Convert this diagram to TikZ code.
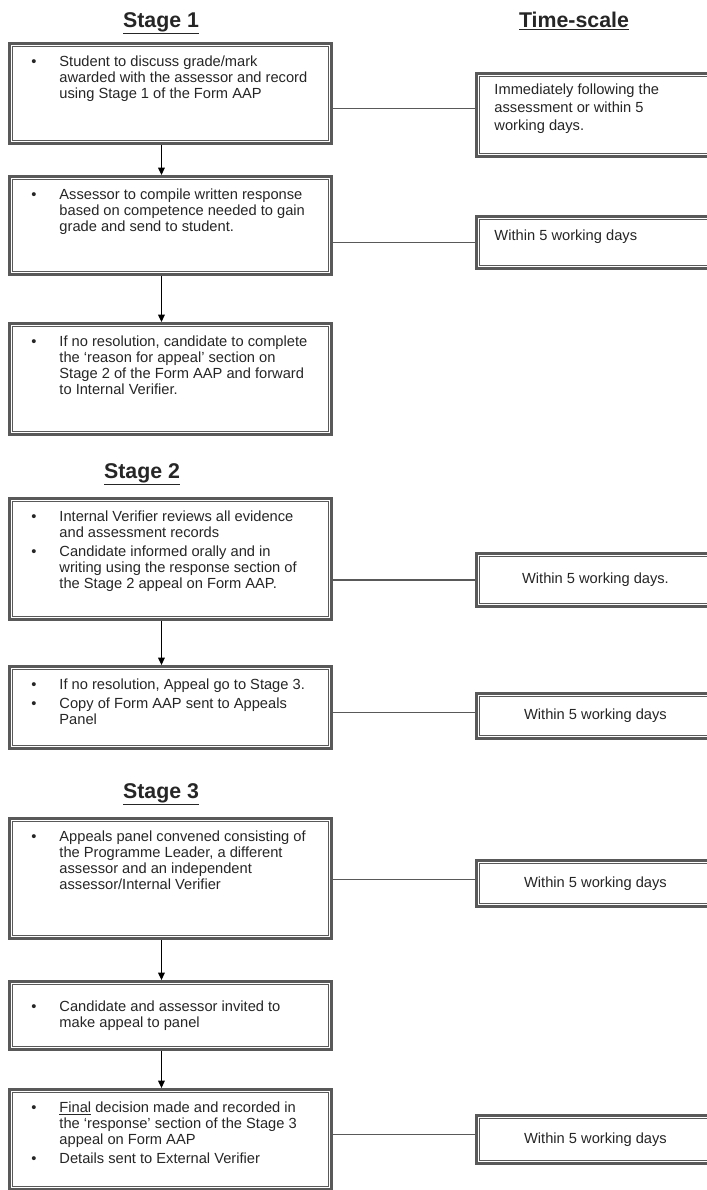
\documentclass[tikz,border=0pt]{standalone}
\usepackage{fontspec}
\setmainfont{Liberation Sans}
\usetikzlibrary{arrows.meta}

\newcommand{\bul}[1]{\par\noindent\hangindent=29.5pt\hangafter=1\makebox[29.5pt][l]{\hspace{8.5pt}\textbullet}\strut#1\par}
\newcommand{\boxbody}[3]{\begin{minipage}[t][#2][t]{#1}\raggedright\setlength{\parskip}{2pt}#3\end{minipage}}

\begin{document}
\begin{tikzpicture}[x=0.75pt, y=-0.75pt,
        stagebox/.style={draw=black!65, line width=2.2pt, fill=white, anchor=north west,
            inner xsep=8pt, inner ysep=8.8pt, text=black!85,
            font=\fontsize{11pt}{12pt}\selectfont,
            path picture={\draw[black!65, line width=0.6pt]
                ([shift={(2pt,-2pt)}]path picture bounding box.north west) rectangle
                ([shift={(-2pt,2pt)}]path picture bounding box.south east);}},
        timebox/.style={stagebox, inner xsep=13.5pt, inner ysep=6.3pt,
            font=\fontsize{11pt}{13.5pt}\selectfont},
        daybox/.style={stagebox, inner sep=3pt, minimum width=178.5pt, align=center},
        heading/.style={anchor=base, text=black!85, font=\fontsize{16pt}{19pt}\selectfont\bfseries},
        link/.style={draw=black!65, line width=1.1pt},
        flow/.style={-{Triangle[length=5.5pt, width=5pt]}, line width=0.8pt}]

        \path[fill=white, use as bounding box] (0, 0) rectangle (707, 1190);

        % headings
        \node[heading] (st1) at (161, 27) {\underline{Stage 1}};
        \node[heading] (ts) at (574, 27) {\underline{Time-scale}};
        \node[heading] (st2) at (142, 478) {\underline{Stage 2}};
        \node[heading] (st3) at (161, 798) {\underline{Stage 3}};

        % stage 1
        \node[stagebox] (b1) at (8, 42) {\boxbody{225.5pt}{57.4pt}{%
            \bul{Student to discuss grade/mark\newline awarded with the assessor and record\newline using Stage 1 of the Form AAP}}};
        \node[stagebox] (b2) at (8, 175) {\boxbody{225.5pt}{55.9pt}{%
            \bul{Assessor to compile written response\newline based on competence needed to gain\newline grade and send to student.}}};
        \node[stagebox] (b3) at (8, 322) {\boxbody{225.5pt}{65.65pt}{%
            \bul{If no resolution, candidate to complete\newline the `reason for appeal' section on\newline Stage 2 of the Form AAP and forward\newline to Internal Verifier.}}};

        % stage 2
        \node[stagebox] (b4) at (8, 497) {\boxbody{225.5pt}{73.15pt}{%
            \bul{Internal Verifier reviews all evidence\newline and assessment records}
            \bul{Candidate informed orally and in\newline writing using the response section of\newline the Stage 2 appeal on Form AAP.}}};
        \node[stagebox] (b5) at (8, 665) {\boxbody{225.5pt}{43.9pt}{%
            \bul{If no resolution, Appeal go to Stage 3.}
            \bul{Copy of Form AAP sent to Appeals\newline Panel}}};

        % stage 3
        \node[stagebox] (b6) at (8, 817) {\boxbody{225.5pt}{72.4pt}{%
            \bul{Appeals panel convened consisting of\newline the Programme Leader, a different\newline assessor and an independent\newline assessor/Internal Verifier}}};
        \node[stagebox] (b7) at (8, 980) {\boxbody{225.5pt}{33.4pt}{%
            \vspace*{5pt}\bul{Candidate and assessor invited to\newline make appeal to panel}}};
        \node[stagebox] (b8) at (8, 1088) {\boxbody{225.5pt}{57.4pt}{%
            \bul{\underline{Final} decision made and recorded in\newline the `response' section of the Stage 3\newline appeal on Form AAP}
            \bul{Details sent to External Verifier}}};

        % time-scale
        \node[timebox] (r1) at (475, 72) {\boxbody{151.5pt}{49.65pt}{%
            \strut Immediately following the\newline assessment or within 5\newline working days.}};
        \node[timebox, inner ysep=8.55pt] (r2) at (475, 215) {\boxbody{151.5pt}{21.9pt}{%
            \strut Within 5 working days}};
        \node[daybox, minimum height=39.75pt] (r4) at (475, 552) {Within 5 working days.};
        \node[daybox, minimum height=33.75pt] (r5) at (475, 692) {Within 5 working days};
        \node[daybox, minimum height=34.5pt] (r6) at (475, 859) {Within 5 working days};
        \node[daybox, minimum height=36pt] (r8) at (475, 1114) {Within 5 working days};

        \coordinate (c1) at ([yshift=4.9pt]r1.west);
        \coordinate (c5) at ([yshift=2.6pt]r5.west);
        \coordinate (c6) at ([yshift=3pt]r6.west);
        \coordinate (c8) at ([yshift=3.7pt]r8.west);

        \draw[link] (c1) -- (c1 -| b1.east)
            (r2.west) -- (r2.west -| b2.east)
            (r4.west) -- (r4.west -| b4.east)
            (c5) -- (c5 -| b5.east)
            (c6) -- (c6 -| b6.east)
            (c8) -- (c8 -| b8.east);

        \draw[flow] ([xshift=-6.75pt]b1.south) -- ([xshift=-6.75pt]b2.north);
        \draw[flow] ([xshift=-6.75pt]b2.south) -- ([xshift=-6.75pt]b3.north);
        \draw[flow] ([xshift=-6.75pt]b4.south) -- ([xshift=-6.75pt]b5.north);
        \draw[flow] ([xshift=-6.75pt]b6.south) -- ([xshift=-6.75pt]b7.north);
        \draw[flow] ([xshift=-6.75pt]b7.south) -- ([xshift=-6.75pt]b8.north);
    \end{tikzpicture}
\end{document}
